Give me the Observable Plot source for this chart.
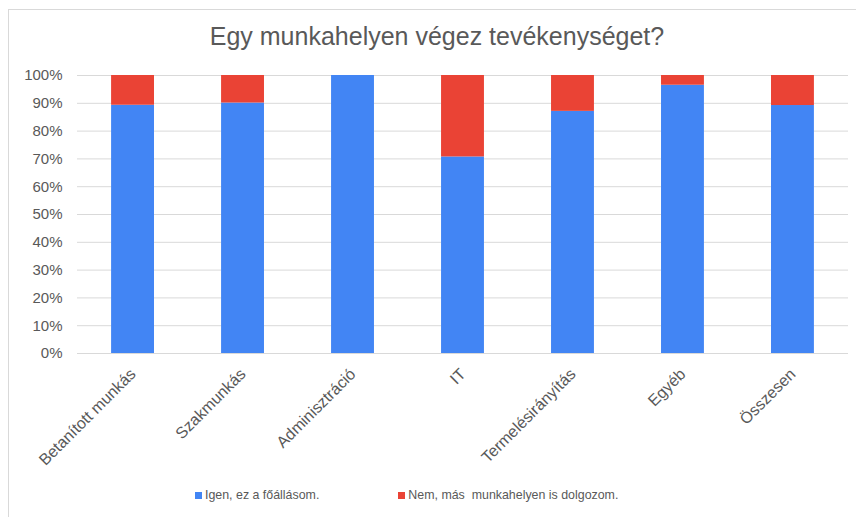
<!DOCTYPE html>
<html>
<head>
<meta charset="utf-8">
<script src="https://cdn.jsdelivr.net/npm/d3@7"></script>
<script src="https://cdn.jsdelivr.net/npm/@observablehq/plot@0.6"></script>
<style>
  html, body { margin: 0; padding: 0; background: #fff; }
  #wrap { position: relative; width: 856px; height: 517px; overflow: hidden; font-family: "Liberation Sans", Arial, sans-serif; }
  #frame { position: absolute; left: 8px; top: 9px; width: 900px; height: 600px; border: 1px solid #d9d9d9; box-sizing: border-box; }
  #title { position: absolute; left: 0; width: 874px; top: 22px; text-align: center; font-size: 25px; color: #595959; }
  #chart { position: absolute; left: 0; top: 0; }
  #legend { position: absolute; top: 488px; left: 195px; font-size: 12.4px; color: #595959; white-space: pre; display: flex; }
  .item { display: flex; align-items: center; margin-right: 79px; }
  .sw { width: 7px; height: 7px; margin-right: 3px; }
</style>
</head>
<body>
<div id="wrap">
  <div id="frame"></div>
  <div id="chart"></div>
  <div id="title">Egy munkahelyen végez tevékenységet?</div>
  <div id="legend"></div>
</div>
<script>
const categories = ["Betanított munkás", "Szakmunkás", "Adminisztráció", "IT", "Termelésirányítás", "Egyéb", "Összesen"];
const igen = [89.3, 90.1, 100, 70.7, 87.1, 96.5, 89.2];
const nem  = [10.7, 9.9, 0, 29.3, 12.9, 3.5, 10.8];
const seriesNames = ["Igen, ez a főállásom.", "Nem, más  munkahelyen is dolgozom."];
const seriesColors = ["#4285F4", "#EA4335"];
const yTicks = [0, 10, 20, 30, 40, 50, 60, 70, 80, 90, 100];

const rows = [];
categories.forEach((c, i) => {
  rows.push({ cat: c, series: seriesNames[0], value: igen[i] });
  rows.push({ cat: c, series: seriesNames[1], value: nem[i] });
});

const chart = Plot.plot({
  width: 856,
  height: 517,
  marginLeft: 77,
  marginRight: 8,
  marginTop: 75,
  marginBottom: 164,
  style: { fontFamily: "Liberation Sans, Arial, sans-serif", fontSize: "15px", color: "#595959", background: "transparent" },
  x: { domain: categories, paddingInner: 0.61, paddingOuter: 0.31, round: false, label: null },
  y: { domain: [0, 100], label: null },
  color: { domain: seriesNames, range: seriesColors },
  marks: [
    Plot.ruleY(yTicks, { stroke: "#d9d9d9", strokeWidth: 1 }),
    Plot.barY(rows, Plot.stackY({ order: seriesNames }, { x: "cat", y: "value", fill: "series" })),
    Plot.axisY(yTicks, { tickSize: 0, tickPadding: 15, tickFormat: d => d + "%", fontSize: 15, fill: "#595959", label: null }),
    Plot.axisX({ tickSize: 0, tickPadding: 18, tickRotate: -45, fontSize: 16, fill: "#595959", label: null })
  ]
});
document.getElementById("chart").appendChild(chart);

const legend = document.getElementById("legend");
seriesNames.forEach((n, i) => {
  const it = document.createElement("div");
  it.className = "item";
  const sw = document.createElement("div");
  sw.className = "sw";
  sw.style.background = seriesColors[i];
  const tx = document.createElement("span");
  tx.textContent = n;
  it.appendChild(sw);
  it.appendChild(tx);
  legend.appendChild(it);
});
</script>
</body>
</html>
